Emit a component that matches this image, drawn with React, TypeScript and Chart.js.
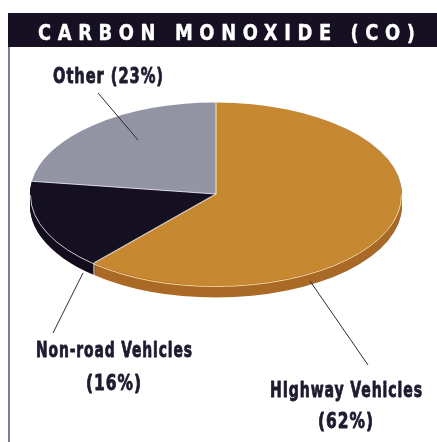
import { useEffect, useRef } from 'react';
import { Chart, registerables } from 'chart.js';

Chart.register(...registerables);

// ---- data ----
const TITLE = 'CARBON MONOXIDE (CO)';
const categories = ['HIghway Vehicles', 'Non-road Vehicles', 'Other'];
const shares = [62, 16, 23];

// ---- styles / layout ----
const topColors = ['#c78a33', '#150f22', '#9395a5'];
const sideColors = ['#aa6a27', '#120c1c', '#6e7080'];
const rimColors = ['#f3d898', '#c9c7d2', '#d0d0d8'];
const SQUISH = 0.492;
const DEPTH = 12;
const FONT = 'bold 21px "Liberation Sans Narrow", "DejaVu Sans Condensed", "Roboto Condensed", sans-serif';
const TEXT_COLOR = '#1f1a30';

// label line boxes: [xLeft, xRight, baseline]
const labelBoxes: [number, number, number][][] = [
  [[270, 422, 397], [318, 373, 428]],
  [[36, 192, 357], [86, 141, 390]],
  [[53, 163, 83]],
];
// leader lines: [x1, y1, x2, y2]
const leaders: [number, number, number, number][] = [
  [368, 365, 310, 281],
  [53, 333, 83, 273],
  [98, 93, 138, 140],
];

function labelLines(i: number): string[] {
  if (i === 2) return [`${categories[i]} (${shares[i]}%)`];
  return [categories[i], `(${shares[i]}%)`];
}

function fitText(ctx: CanvasRenderingContext2D, text: string, x1: number, x2: number, base: number, ls: number, weight: number) {
  (ctx as any).letterSpacing = `${ls}px`;
  const w = ctx.measureText(text).width - ls;
  const sx = (x2 - x1) / w;
  ctx.save();
  ctx.textAlign = 'left';
  ctx.textBaseline = 'alphabetic';
  ctx.translate(x1, base);
  ctx.scale(sx, 1);
  ctx.fillText(text, 0, 0);
  if (weight > 0) {
    ctx.strokeStyle = ctx.fillStyle as string;
    ctx.lineWidth = weight;
    ctx.lineJoin = 'round';
    ctx.strokeText(text, 0, 0);
  }
  ctx.restore();
  (ctx as any).letterSpacing = '0px';
}

function makePattern(a: string, b: string) {
  const c = document.createElement('canvas');
  c.width = 2;
  c.height = 2;
  const g = c.getContext('2d')!;
  g.fillStyle = a;
  g.fillRect(0, 0, 2, 2);
  g.fillStyle = b;
  g.fillRect(0, 0, 1, 1);
  g.fillRect(1, 1, 1, 1);
  const p = g.createPattern(c, 'repeat')!;
  p.setTransform(new DOMMatrix().scale(1, 1 / SQUISH));
  return p;
}

function squishAbout(ctx: CanvasRenderingContext2D, cy: number, dy: number) {
  ctx.translate(0, cy + dy);
  ctx.scale(1, SQUISH);
  ctx.translate(0, -cy);
}

const pie3d = {
  id: 'pie3d',
  beforeDraw(chart: any) {
    const ctx: CanvasRenderingContext2D = chart.ctx;
    ctx.save();
    ctx.fillStyle = '#161022';
    ctx.fillRect(8, 13, chart.width - 8, 34);
    ctx.fillStyle = '#ffffff';
    ctx.font = FONT;
    fitText(ctx, TITLE, 38, 415, 40, 7, 0.4);
    ctx.strokeStyle = '#85778e';
    ctx.lineWidth = 2;
    ctx.beginPath();
    ctx.moveTo(9, 47);
    ctx.lineTo(9, chart.height);
    ctx.stroke();
    ctx.restore();
  },
  beforeDatasetsDraw(chart: any) {
    const ctx: CanvasRenderingContext2D = chart.ctx;
    const arcs = chart.getDatasetMeta(0).data;
    for (let d = DEPTH; d >= 1; d--) {
      arcs.forEach((arc: any, i: number) => {
        ctx.save();
        squishAbout(ctx, arc.y, d);
        ctx.beginPath();
        ctx.moveTo(arc.x, arc.y);
        ctx.arc(arc.x, arc.y, arc.outerRadius, arc.startAngle, arc.endAngle);
        ctx.closePath();
        ctx.fillStyle = sideColors[i];
        ctx.fill();
        ctx.restore();
      });
    }
    const cy = arcs[0].y;
    ctx.save();
    squishAbout(ctx, cy, 0);
  },
  afterDatasetsDraw(chart: any) {
    const ctx: CanvasRenderingContext2D = chart.ctx;
    ctx.restore();
    const arcs = chart.getDatasetMeta(0).data;
    arcs.forEach((arc: any, i: number) => {
      const a0 = Math.max(arc.startAngle, 0);
      const a1 = Math.min(arc.endAngle, Math.PI);
      if (a1 > a0) {
        ctx.save();
        squishAbout(ctx, arc.y, 1.2);
        ctx.beginPath();
        ctx.arc(arc.x, arc.y, arc.outerRadius - 0.5, a0, a1);
        ctx.restore();
        ctx.save();
        ctx.strokeStyle = rimColors[i];
        ctx.lineWidth = 1;
        ctx.stroke();
        ctx.restore();
      }
      ctx.save();
      squishAbout(ctx, arc.y, 0);
      ctx.beginPath();
      ctx.moveTo(arc.x, arc.y);
      ctx.lineTo(arc.x + arc.outerRadius * Math.cos(arc.startAngle), arc.y + arc.outerRadius * Math.sin(arc.startAngle));
      ctx.restore();
      ctx.save();
      ctx.strokeStyle = 'rgba(236,234,242,0.85)';
      ctx.lineWidth = 1.2;
      ctx.stroke();
      ctx.restore();
      const a = arc.startAngle;
      if (Math.sin(a) > 0.02) {
        const px = arc.x + arc.outerRadius * Math.cos(a);
        const py = arc.y + arc.outerRadius * Math.sin(a) * SQUISH;
        ctx.save();
        ctx.strokeStyle = 'rgba(236,234,242,0.9)';
        ctx.lineWidth = 1.2;
        ctx.beginPath();
        ctx.moveTo(px, py);
        ctx.lineTo(px, py + DEPTH);
        ctx.stroke();
        ctx.restore();
      }
    });
  },
  afterDraw(chart: any) {
    const ctx: CanvasRenderingContext2D = chart.ctx;
    ctx.save();
    ctx.strokeStyle = '#2e2938';
    ctx.lineWidth = 1;
    leaders.forEach(([x1, y1, x2, y2]) => {
      ctx.beginPath();
      ctx.moveTo(x1, y1);
      ctx.lineTo(x2, y2);
      ctx.stroke();
    });
    ctx.fillStyle = TEXT_COLOR;
    ctx.font = FONT;
    categories.forEach((_, i) => {
      labelLines(i).forEach((t, j) => {
        const [x1, x2, b] = labelBoxes[i][j];
        fitText(ctx, t, x1, x2, b, 1.2, 0.8);
      });
    });
    ctx.restore();
  },
};

export default function App() {
  const ref = useRef<HTMLCanvasElement | null>(null);
  useEffect(() => {
    const canvas = ref.current;
    if (!canvas) return;
    const bg = [
      makePattern('#c98c35', '#c3862f'),
      topColors[1],
      makePattern('#989aa9', '#8e90a0'),
    ];
    const chart = new Chart(canvas, {
      type: 'pie',
      data: {
        labels: categories,
        datasets: [
          {
            data: shares,
            backgroundColor: bg as any,
            borderWidth: 0,
          },
        ],
      },
      options: {
        responsive: false,
        animation: false,
        layout: { padding: { left: 30, right: 35, top: 8, bottom: 62 } },
        plugins: {
          legend: { display: false },
          title: { display: false },
          tooltip: { enabled: false },
        },
        events: [],
      },
      plugins: [pie3d as any],
    });
    return () => chart.destroy();
  }, []);
  return (
    <div style={{ position: 'fixed', left: 0, top: 0, width: 437, height: 442, background: '#fff' }}>
      <canvas ref={ref} width={437} height={442} style={{ display: 'block' }} />
    </div>
  );
}
